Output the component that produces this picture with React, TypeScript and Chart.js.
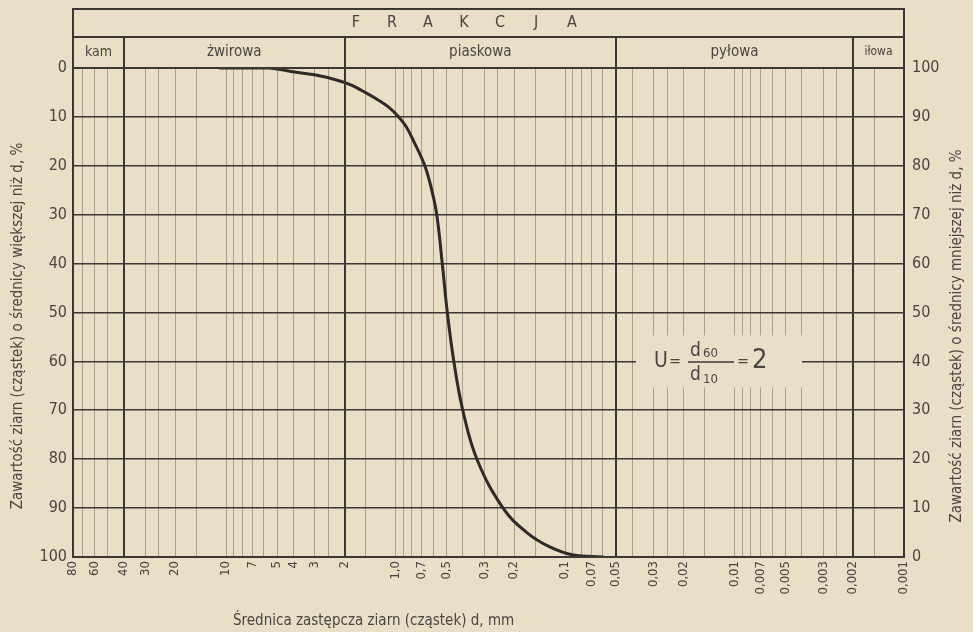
import React, { useEffect, useRef } from 'react';
import { Chart, registerables } from 'chart.js';

Chart.register(...registerables);

// ---- data ----
const diameters = [11, 5.56, 4.06, 3.01, 2.23, 1.82, 1.565, 1.33, 1.098, 0.958, 0.865, 0.781, 0.672, 0.611, 0.571, 0.53, 0.495, 0.453, 0.401, 0.331, 0.232, 0.168, 0.122, 0.0895, 0.0594];
const percentCoarser = [0, 0, 0.76, 1.4, 2.45, 3.5, 4.7, 6.1, 8.0, 10, 12, 15, 20, 25, 30, 40, 50, 60, 70, 80, 90, 95, 98, 99.6, 100];

const gridValues = [80, 70, 60, 50, 40, 30, 25, 20, 15, 10, 9, 8, 7, 6, 5, 4, 3, 2.5, 2, 1.5, 1, 0.9, 0.8, 0.7, 0.6, 0.5, 0.4, 0.3, 0.25, 0.2, 0.15, 0.1, 0.09, 0.08, 0.07, 0.06, 0.05, 0.04, 0.03, 0.025, 0.02, 0.015, 0.01, 0.009, 0.008, 0.007, 0.006, 0.005, 0.004, 0.003, 0.0025, 0.002, 0.0015, 0.001];
const tickValues = [80, 60, 40, 30, 20, 10, 7, 5, 4, 3, 2, 1, 0.7, 0.5, 0.3, 0.2, 0.1, 0.07, 0.05, 0.03, 0.02, 0.01, 0.007, 0.005, 0.003, 0.002, 0.001];
const tickLabels = ['80', '60', '40', '30', '20', '10', '7', '5', '4', '3', '2', '1,0', '0,7', '0,5', '0,3', '0,2', '0,1', '0,07', '0,05', '0,03', '0,02', '0,01', '0,007', '0,005', '0,003', '0,002', '0,001'];

const fractionBoundaries = [40, 2, 0.05, 0.002];
const fractionNames = ['kam', 'żwirowa', 'piaskowa', 'pyłowa', 'iłowa'];
const headerTitle = 'FRAKCJA';

const leftTitle = 'Zawartość ziarn (cząstek) o średnicy większej niż d, %';
const rightTitle = 'Zawartość ziarn (cząstek) o średnicy mniejszej niż d, %';
const bottomTitle = 'Średnica zastępcza ziarn (cząstek) d, mm';

const BG = '#e9dfc6';
const INK = '#3b3732';
const TXT = '#4a4540';
const FONT = "'DejaVu Sans Condensed', 'Liberation Sans Narrow', 'DejaVu Sans', sans-serif";

const decorPlugin = {
  id: 'decor',
  afterDraw(chart: any) {
    const { ctx, chartArea } = chart;
    const xs = chart.scales.x;
    const ys = chart.scales.y;
    const L = chartArea.left, R = chartArea.right, T = chartArea.top, B = chartArea.bottom;
    const headTop = 9, rowDiv = 37;
    ctx.save();
    ctx.strokeStyle = INK;
    ctx.lineWidth = 2;
    ctx.beginPath();
    ctx.rect(L, headTop, R - L, B - headTop);
    ctx.moveTo(L, rowDiv); ctx.lineTo(R, rowDiv);
    ctx.moveTo(L, T); ctx.lineTo(R, T);
    fractionBoundaries.forEach((v) => {
      const px = Math.round(xs.getPixelForValue(v));
      ctx.moveTo(px, rowDiv); ctx.lineTo(px, B);
    });
    ctx.stroke();

    ctx.fillStyle = TXT;
    ctx.textBaseline = 'middle';
    ctx.textAlign = 'center';
    ctx.font = `16px ${FONT}`;
    headerTitle.split('').forEach((ch, i) => {
      ctx.fillText(ch, 356 + i * 36, 23);
    });
    const edges = [L, ...fractionBoundaries.map((v) => xs.getPixelForValue(v)), R];
    fractionNames.forEach((name, i) => {
      ctx.font = i === 4 ? `12px ${FONT}` : i === 0 ? `14px ${FONT}` : `15px ${FONT}`;
      ctx.fillText(name, (edges[i] + edges[i + 1]) / 2, 52);
    });

    const y60 = ys.getPixelForValue(60);
    ctx.fillStyle = BG;
    ctx.fillRect(636, y60 - 26, 166, 52);
    ctx.fillStyle = TXT;
    ctx.textAlign = 'left';
    ctx.textBaseline = 'middle';
    ctx.font = `21px ${FONT}`;
    ctx.fillText('U', 654, y60);
    ctx.font = `16px ${FONT}`;
    ctx.fillText('=', 669, y60);
    ctx.beginPath();
    ctx.lineWidth = 1.5;
    ctx.moveTo(688, y60 + 0.5); ctx.lineTo(734, y60 + 0.5);
    ctx.stroke();
    ctx.textBaseline = 'alphabetic';
    ctx.font = `19px ${FONT}`;
    ctx.fillText('d', 690, y60 - 5);
    ctx.fillText('d', 690, y60 + 19);
    ctx.font = `13px ${FONT}`;
    ctx.fillText('60', 703, y60 - 4);
    ctx.fillText('10', 703, y60 + 22);
    ctx.textBaseline = 'middle';
    ctx.font = `16px ${FONT}`;
    ctx.fillText('=', 737, y60);
    ctx.font = `27px ${FONT}`;
    ctx.fillText('2', 752, y60);

    ctx.font = `15px ${FONT}`;
    ctx.textAlign = 'center';
    ctx.save();
    ctx.translate(18, 326);
    ctx.rotate(-Math.PI / 2);
    ctx.fillText(leftTitle, 0, 0);
    ctx.restore();
    ctx.save();
    ctx.translate(957, 336);
    ctx.rotate(-Math.PI / 2);
    ctx.fillText(rightTitle, 0, 0);
    ctx.restore();
    ctx.textAlign = 'left';
    ctx.fillText(bottomTitle, 233, 621);
    ctx.restore();
  },
};

export default function App() {
  const ref = useRef<HTMLCanvasElement | null>(null);
  useEffect(() => {
    document.body.style.margin = '0';
    const canvas = ref.current;
    if (!canvas) return;
    const chart = new Chart(canvas, {
      type: 'line',
      data: {
        datasets: [
          {
            data: diameters.map((d, i) => ({ x: d, y: percentCoarser[i] })),
            borderColor: '#2e2a26',
            borderWidth: 3,
            pointRadius: 0,
            tension: 0.4,
            fill: false,
            yAxisID: 'y',
          },
        ],
      },
      options: {
        responsive: false,
        animation: false,
        layout: { padding: { top: 68, left: 0, right: 0, bottom: 0 } },
        plugins: { legend: { display: false }, tooltip: { enabled: false }, title: { display: false } },
        scales: {
          x: {
            type: 'logarithmic',
            reverse: true,
            min: 0.001,
            max: 80,
            afterBuildTicks: (scale: any) => {
              scale.ticks = gridValues.map((v) => ({ value: v }));
            },
            afterFit: (scale: any) => {
              scale.height = 75;
            },
            grid: { color: 'rgba(70,62,55,0.4)', lineWidth: 1, drawTicks: false },
            border: { display: false },
            ticks: {
              autoSkip: false,
              minRotation: 90,
              maxRotation: 90,
              padding: 4,
              color: TXT,
              font: { family: FONT, size: 13 },
              callback: (value: any) => {
                const i = tickValues.indexOf(Number(value));
                return i >= 0 ? tickLabels[i] : '';
              },
            },
          },
          y: {
            type: 'linear',
            position: 'left',
            reverse: true,
            min: 0,
            max: 100,
            afterFit: (scale: any) => {
              scale.width = 73;
            },
            grid: { color: INK, lineWidth: 1.6, drawTicks: false },
            border: { display: false },
            ticks: { stepSize: 10, padding: 6, color: TXT, font: { family: FONT, size: 16 } },
          },
          y2: {
            type: 'linear',
            position: 'right',
            min: 0,
            max: 100,
            afterFit: (scale: any) => {
              scale.width = 69;
            },
            grid: { display: false, drawTicks: false },
            border: { display: false },
            ticks: { stepSize: 10, padding: 8, color: TXT, font: { family: FONT, size: 16 } },
          },
        },
      },
      plugins: [decorPlugin],
    });
    return () => chart.destroy();
  }, []);
  return (
    <div style={{ position: 'fixed', left: 0, top: 0, width: 973, height: 632, background: BG }}>
      <canvas ref={ref} width={973} height={632} style={{ display: 'block' }} />
    </div>
  );
}
